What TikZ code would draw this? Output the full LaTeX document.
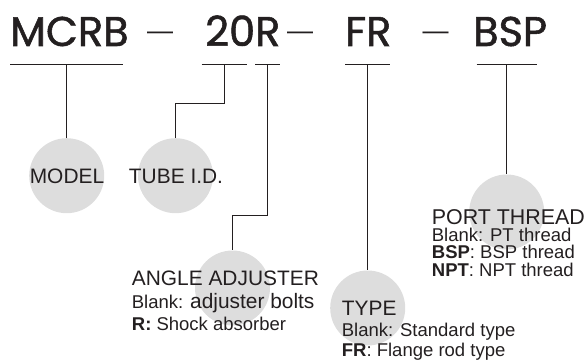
\documentclass[tikz,border=0pt]{standalone}
\usepackage{fontspec}
\setmainfont{Liberation Sans}
\newfontfamily\titlefont[FakeBold=1.3]{Poppins}
\usetikzlibrary{positioning}
\definecolor{ink}{RGB}{35,31,32}
\definecolor{discgray}{RGB}{221,221,221}

\begin{document}
\begin{tikzpicture}[
  x=1pt, y=-1pt,
  color=ink,
  disc/.style={circle, fill=discgray, minimum size=75pt, inner sep=0pt},
  head/.style={inner sep=0pt, font=\fontsize{20.9}{24}\selectfont},
  sub/.style={inner sep=0pt, anchor=base west, font=\fontsize{18.5}{21}\selectfont},
  title/.style={inner sep=0pt, anchor=base west, font=\titlefont\fontsize{41.5}{48}\selectfont},
  sep/.style={inner sep=0pt, anchor=base, font=\fontsize{26}{30}\selectfont},
  lead/.style={draw=ink, line width=0.9pt}
]
\useasboundingbox (0,0) rectangle (587,361);
\node[title] (mcrb) at (10,46) {MCRB};
\node[sep] (d1) at (160,40) {—};
\node[title] (size) at (205,46) {20R};
\node[sep] (d2) at (300,40) {—};
\node[title] (rod) at (345,46) {FR};
\node[sep] (d3) at (435.5,40) {—};
\node[title] (thread) at (473,46) {BSP};
\foreach \a/\b in {10/123.3, 201.7/246.7, 255/280, 345/390, 476.7/536.7}
  \draw[lead] (\a,64.5) -- (\b,64.5);
\coordinate (u-model) at (66.7,64.5);
\coordinate (u-tube) at (224,64.5);
\coordinate (u-angle) at (267.7,64.5);
\coordinate (u-type) at (367.7,64.5);
\coordinate (u-port) at (506.7,64.5);
\node[disc] (model) at (66.7,175.7) {};
\node[disc] (tube) at (175.5,175.7) {};
\node[disc] (angle) at (232.5,288) {};
\node[disc] (typ) at (367.7,308) {};
\node[disc] (port) at (506.7,212) {};
\draw[lead] (u-model) -- (model.north);
\draw[lead] (u-tube) -- ++(0,38.5) -| (tube.north);
\draw[lead] (u-angle) -- ++(0,150.5) -| (angle.north);
\draw[lead] (u-type) -- (typ.north);
\draw[lead] (u-port) -- (port.north);
\node[head] (model-t) at (67,176.7) {MODEL};
\node[head] (tube-t) at (176,176.7) {TUBE I.D.};
\node[head, anchor=base west] (angle-t) at (131.7,285) {ANGLE ADJUSTER};
\node[sub] (angle-a) at (131.7,308.3) {Blank: {\fontsize{20.9}{24}\selectfont adjuster bolts}};
\node[sub] (angle-b) at (131.7,330.7) {\textbf{R:} Shock absorber};
\node[head, anchor=base west] (type-t) at (341.7,315) {TYPE};
\node[sub] (type-a) at (341.7,336) {Blank: Standard type};
\node[sub] (type-b) at (341.7,356.7) {\textbf{FR}: Flange rod type};
\node[head, anchor=base west, font=\fontsize{21.4}{24}\selectfont] (port-t) at (431.7,224) {PORT THREAD};
\node[sub] (port-a) at (431.7,241) {Blank: PT thread};
\node[sub] (port-b) at (431.7,258.3) {\textbf{BSP}: BSP thread};
\node[sub] (port-c) at (431.7,276) {\textbf{NPT}: NPT thread};
\end{tikzpicture}
\end{document}
